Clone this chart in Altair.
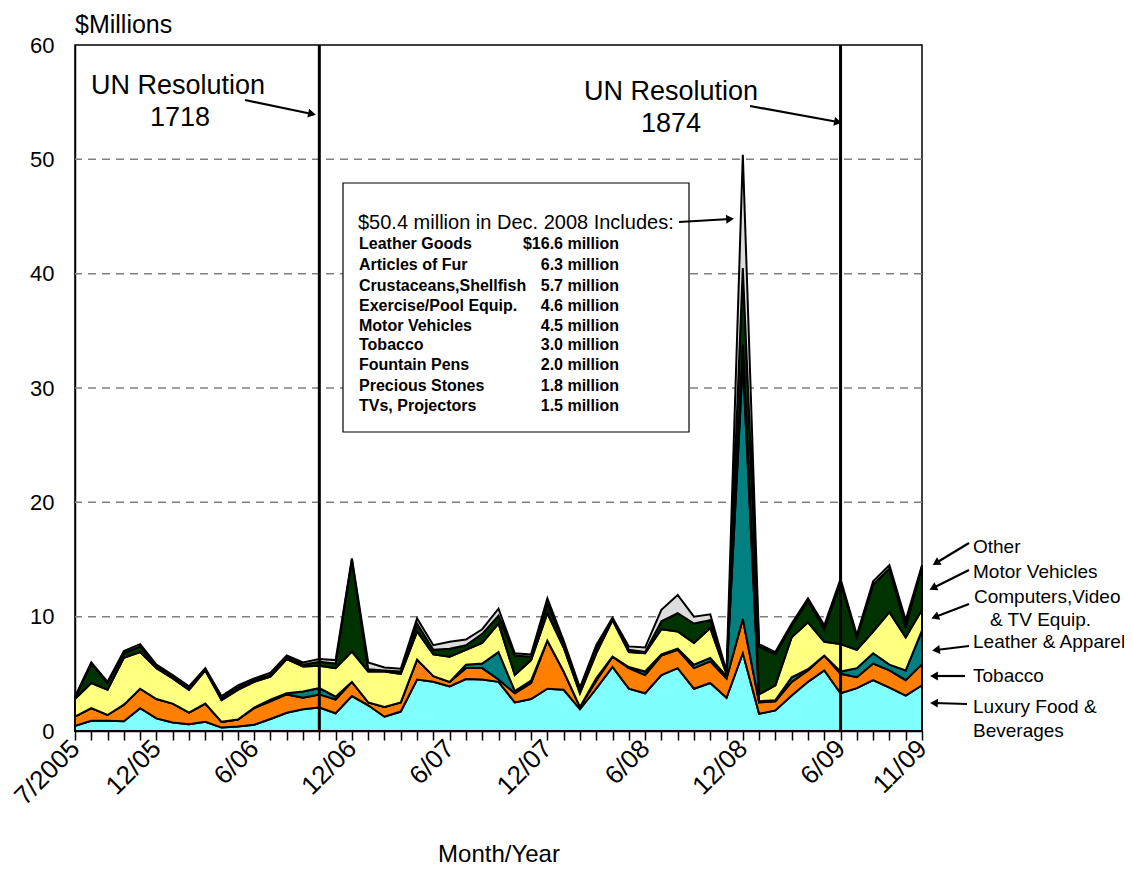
import math
import altair as alt
import pandas as pd

# ---------------- data ----------------
months = list(range(53))  # 0 = 7/2005 ... 52 = 11/2009
tick_idx = [0, 5, 11, 17, 23, 29, 35, 41, 47, 52]
tick_lab = ['7/2005', '12/05', '6/06', '12/06', '6/07', '12/07', '6/08', '12/08', '6/09', '11/09']

series = ['Luxury Food & Beverages', 'Tobacco', 'Leather & Apparel',
          'Computers, Video & TV Equip.', 'Motor Vehicles', 'Other']
colors = ['#80FFFF', '#FF8000', '#008080', '#FFFF80', '#003300', '#DDDDDD']

luxury = [0.45, 0.9, 0.9, 0.85, 2.0, 1.1, 0.75, 0.6, 0.8, 0.3,
          0.4, 0.55, 1.05, 1.6, 1.9, 2.05, 1.55, 3.05, 2.25, 1.25,
          1.7, 4.5, 4.3, 3.9, 4.55, 4.5, 4.3, 2.5, 2.8, 3.7,
          3.6, 1.9, 3.7, 5.6, 3.7, 3.3, 4.9, 5.5, 3.7, 4.2,
          2.9, 6.8, 1.5, 1.8, 3.1, 4.3, 5.3, 3.3, 3.75, 4.45,
          3.8, 3.1, 4.0]
tobacco = [0.8, 1.1, 0.5, 1.45, 1.7, 1.7, 1.65, 1.0, 1.6, 0.5,
           0.6, 1.45, 1.55, 1.6, 1.0, 1.15, 1.2, 1.25, 0.25, 0.85,
           0.8, 1.75, 0.5, 0.4, 0.95, 1.0, 0.2, 0.8, 1.4, 4.2,
           1.6, 0.2, 0.7, 0.9, 1.8, 1.6, 1.7, 1.6, 1.8, 1.9,
           1.7, 3.0, 1.0, 0.8, 1.2, 1.0, 1.3, 1.7, 0.95, 1.45,
           1.5, 1.35, 1.85]
leather = [0, 0, 0, 0, 0, 0, 0, 0, 0, 0,
           0, 0.05, 0.15, 0.1, 0.55, 0.55, 0.25, 0, 0, 0,
           0, 0, 0, 0, 0.3, 0.4, 2.4, 0.2, 0.2, 0,
           0, 0, 0.2, 0, 0.1, 0.3, 0.1, 0.1, 0.3, 0.3,
           0.2, 22.5, 0.1, 0.1, 0.4, 0.1, 0, 0.2, 0.8, 0.9,
           0.5, 0.85, 2.95]
computers = [1.55, 2.2, 2.2, 4.1, 3.2, 2.7, 2.2, 2.0, 2.9, 1.9,
             2.6, 2.25, 2.0, 3.0, 2.2, 1.95, 2.5, 2.65, 2.7, 3.1,
             2.5, 2.45, 1.9, 2.2, 1.3, 1.8, 2.5, 1.4, 1.8, 2.4,
             2.1, 1.2, 2.2, 3.2, 1.3, 1.6, 2.2, 1.5, 1.9, 2.6,
             0.2, 1.5, 0.6, 1.3, 3.5, 4.1, 1.2, 2.4, 1.6, 1.9,
             4.6, 2.9, 1.8]
motor = [0.15, 1.7, 0.6, 0.4, 0.5, 0.1, 0.15, 0.15, 0.1, 0.2,
         0.2, 0.15, 0.15, 0.15, 0.15, 0.35, 0.4, 8.05, 0.2, 0.1,
         0.2, 0.7, 0.4, 0.7, 0.4, 0.8, 0.7, 1.7, 0.3, 0.8,
         0.4, 0.3, 0.5, 0.1, 0.2, 0.1, 0.7, 1.6, 1.7, 0.7,
         0.1, 6.7, 4.2, 2.7, 1.0, 1.9, 1.1, 5.4, 1.1, 4.1,
         3.8, 0.9, 3.8]
other = [0.05, 0.1, 0.1, 0.2, 0.2, 0.2, 0.15, 0.15, 0.1, 0.15,
         0.2, 0.15, 0.2, 0.15, 0.2, 0.25, 0.3, 0.1, 0.6, 0.25,
         0.25, 0.45, 0.4, 0.6, 0.5, 0.4, 0.6, 0.2, 0.2, 0.5,
         0.2, 0.2, 0.2, 0.1, 0.3, 0.4, 1.0, 1.6, 0.6, 0.5,
         0.1, 9.9, 0.2, 0.2, 0.2, 0.2, 0.35, 0.3, 0.2, 0.3,
         0.3, 0.6, 0.1]

resolutions = [15, 47]          # 10/2006 (UNSCR 1718), 6/2009 (UNSCR 1874)
grid_vals = [10, 20, 30, 40, 50]
y_ticks = [0, 10, 20, 30, 40, 50, 60]

box_head = '$50.4 million in Dec. 2008 Includes:'
box_items = ['Leather Goods', 'Articles of Fur', 'Crustaceans,Shellfish',
             'Exercise/Pool Equip.', 'Motor Vehicles', 'Tobacco',
             'Fountain Pens', 'Precious Stones', 'TVs, Projectors']
box_vals = ['$16.6 million', '6.3 million', '5.7 million', '4.6 million',
            '4.5 million', '3.0 million', '2.0 million', '1.8 million', '1.5 million']

# ---------------- geometry helpers ----------------
W, H = 847, 686
kx, ky = W / 52.0, H / 60.0


def dx(px):
    return (px - 75) / kx


def dy(py):
    return (731 - py) / ky


FONT = 'Liberation Sans'

xs = alt.Scale(domain=[0, 52], nice=False, zero=False)
ys = alt.Scale(domain=[0, 60], nice=False, zero=False)

label_expr = ''.join(f"datum.value == {i} ? '{t}' : " for i, t in zip(tick_idx, tick_lab)) + "''"

xaxis = alt.Axis(values=months, labelExpr=label_expr, title=None, grid=False,
                 labelAngle=-45, labelAlign='right', labelBaseline='middle',
                 labelFontSize=26, labelFont=FONT, labelColor='black',
                 labelPadding=4, labelOverlap=False, labelBound=False, labelFlush=False,
                 ticks=True, tickSize=9, tickColor='black', tickWidth=1.5, tickOpacity=1,
                 domainColor='black', domainWidth=1.5, zindex=2)
yaxis = alt.Axis(values=y_ticks, title=None, grid=False,
                 labelFontSize=22, labelFont=FONT, labelColor='black',
                 ticks=False, labelPadding=21, domainColor='black', domainWidth=1.5)


def X(f):
    return alt.X(f, type='quantitative', scale=xs, axis=xaxis)


def Y(f, **kw):
    return alt.Y(f, type='quantitative', scale=ys, axis=yaxis, **kw)


# ---------------- stacked areas ----------------
rows = []
for o, (name, vals) in enumerate(zip(series, [luxury, tobacco, leather, computers, motor, other])):
    for m, v in zip(months, vals):
        rows.append({'m': m, 'v': v, 's': name, 'o': o})
df = pd.DataFrame(rows)

grid = alt.Chart(pd.DataFrame({'g': grid_vals})).mark_rule(
    strokeDash=[8, 6], color='#808080', strokeWidth=1.5
).encode(y=Y('g'))

areas = alt.Chart(df).mark_area(stroke='black', strokeWidth=2, opacity=1, interpolate='linear').encode(
    x=X('m'),
    y=Y('v', stack='zero'),
    color=alt.Color('s:N', scale=alt.Scale(domain=series, range=colors), legend=None),
    order=alt.Order('o:Q', sort='ascending'),
)

vlines = alt.Chart(pd.DataFrame({'r': resolutions})).mark_rule(
    color='black', strokeWidth=3
).encode(x=X('r'))

# ---------------- annotation box ----------------
box = alt.Chart(pd.DataFrame({'x1': [dx(343)], 'x2': [dx(689)], 'y1': [dy(183)], 'y2': [dy(432)]})).mark_rect(
    fill='white', stroke='black', strokeWidth=1.2
).encode(x=X('x1'), x2='x2:Q', y=Y('y1'), y2='y2:Q')

line_py = [244, 265, 286, 306, 326, 345, 365, 386, 406]
box_df = pd.DataFrame({'name': box_items, 'val': box_vals,
                       'y': [dy(p) for p in line_py],
                       'xl': [dx(359)] * len(box_items), 'xr': [dx(619)] * len(box_items)})

box_head_t = alt.Chart(pd.DataFrame({'t': [box_head], 'x': [dx(358)], 'y': [dy(223)]})).mark_text(
    align='left', baseline='middle', font=FONT, fontSize=20, color='black'
).encode(x=X('x'), y=Y('y'), text='t:N')

box_names = alt.Chart(box_df).mark_text(
    align='left', baseline='middle', font=FONT, fontSize=16, fontWeight='bold', color='black'
).encode(x=X('xl'), y=Y('y'), text='name:N')

box_values = alt.Chart(box_df).mark_text(
    align='right', baseline='middle', font=FONT, fontSize=16, fontWeight='bold', color='black'
).encode(x=X('xr'), y=Y('y'), text='val:N')

# ---------------- other texts ----------------
center_txt = pd.DataFrame({
    't': ['UN Resolution', '1718', 'UN Resolution', '1874'],
    'x': [dx(178), dx(180), dx(671), dx(671)],
    'y': [dy(86), dy(118), dy(92), dy(124)],
})
center_t = alt.Chart(center_txt).mark_text(
    align='center', baseline='middle', font=FONT, fontSize=27, color='black'
).encode(x=X('x'), y=Y('y'), text='t:N')

right_labels = ['Other', 'Motor Vehicles', 'Computers,Video', '& TV Equip.',
                'Leather & Apparel', 'Tobacco', 'Luxury  Food &', 'Beverages']
left_txt = pd.DataFrame({
    't': right_labels + ['$Millions'],
    'x': [dx(973), dx(973), dx(974), dx(990), dx(973), dx(973), dx(973), dx(973), dx(75)],
    'y': [dy(547), dy(572), dy(597), dy(620), dy(642), dy(676), dy(707), dy(731), dy(25)],
    'fs': [19, 19, 19, 19, 19, 19, 19, 19, 25],
})
left_t = alt.Chart(left_txt).mark_text(
    align='left', baseline='middle', font=FONT, color='black'
).encode(x=X('x'), y=Y('y'), text='t:N', size=alt.Size('fs:Q', scale=None))

title_t = alt.Chart(pd.DataFrame({'t': ['Month/Year'], 'x': [dx(499)], 'y': [dy(862)]})).mark_text(
    align='center', baseline='alphabetic', font=FONT, fontSize=24, color='black'
).encode(x=X('x'), y=Y('y'), text='t:N')

# ---------------- arrows ----------------
arrow_pts = [
    ((245, 100), (312, 114)),
    ((750, 106), (838, 122)),
    ((679, 222), (730, 219)),
    ((969, 543), (936, 563)),
    ((969, 570), (933, 588)),
    ((969, 604), (935, 617)),
    ((969, 646), (936, 650)),
    ((965, 676), (934, 676)),
    ((967, 704), (934, 703)),
]
arr_rows = []
for (p1, p2) in arrow_pts:
    ang = math.degrees(math.atan2(p2[1] - p1[1], p2[0] - p1[0])) % 360
    arr_rows.append({'x1': dx(p1[0]), 'y1': dy(p1[1]), 'x2': dx(p2[0]), 'y2': dy(p2[1]), 'a': ang})
arr_df = pd.DataFrame(arr_rows)

arrow_lines = alt.Chart(arr_df).mark_rule(color='black', strokeWidth=2.2).encode(
    x=X('x1'), x2='x2:Q', y=Y('y1'), y2='y2:Q'
)
arrow_heads = alt.Chart(arr_df).mark_point(
    shape='triangle-right', filled=True, color='black', size=80, opacity=1
).encode(x=X('x2'), y=Y('y2'), angle=alt.Angle('a:Q', scale=None))

chart = alt.layer(
    grid, areas, vlines, box, box_head_t, box_names, box_values,
    center_t, left_t, title_t, arrow_lines, arrow_heads
).properties(
    width=W, height=H,
    padding={'left': 67, 'top': 37, 'right': 202, 'bottom': 137},
    autosize=alt.AutoSizeParams(type='none'),
    background='white',
).configure_view(
    stroke='black', strokeWidth=1.5
).configure_axisX(
    ticks=True, tickSize=9, tickColor='black', tickWidth=1.5
)

chart.save('out.html', embed_options={'renderer': 'svg', 'actions': False})
